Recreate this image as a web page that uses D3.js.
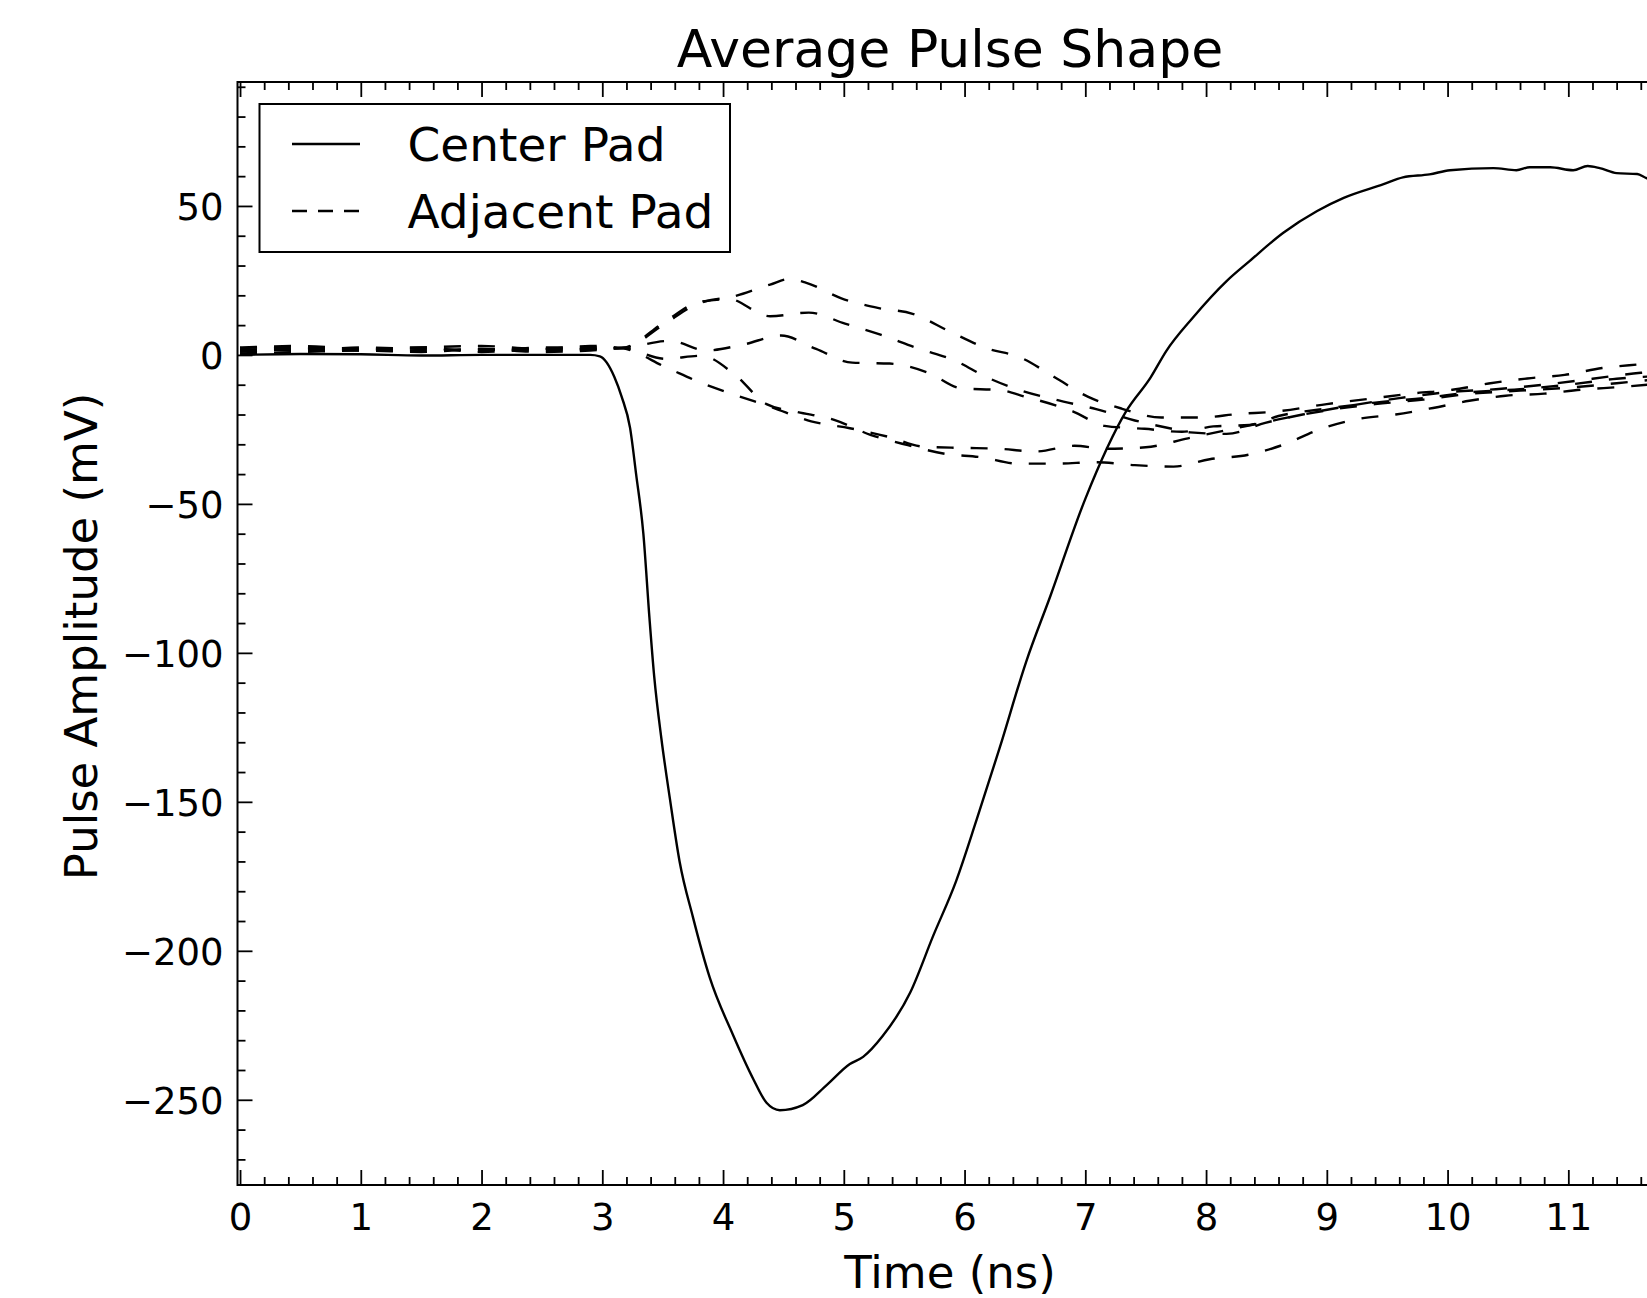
<!DOCTYPE html>
<html>
<head>
<meta charset="utf-8">
<script src="https://cdn.jsdelivr.net/npm/d3@7"></script>
<style>
  body { margin: 0; background: #fff; }
  svg { display: block; font-family: "DejaVu Sans", sans-serif; }
</style>
</head>
<body>
<script>
// center pad (solid)
var centerT = [0, 0.5, 1.0, 1.5, 2.0, 2.5, 2.8, 2.9, 2.98, 3.10, 3.16, 3.23, 3.28, 3.34, 3.39, 3.43, 3.49, 3.56, 3.64, 3.75, 3.89, 4.08, 4.25, 4.36, 4.47, 4.66, 4.86, 5.05, 5.16, 5.32, 5.55, 5.74, 5.93, 6.10, 6.29, 6.51, 6.71, 7.00, 7.34, 7.54, 7.67, 7.89, 8.17, 8.36, 8.64, 8.92, 9.14, 9.47, 9.63, 9.85, 10.02, 10.38, 10.57, 10.68, 10.85, 11.04, 11.16, 11.26, 11.40, 11.57, 11.65, 11.78];
var centerV = [0, 0.3, 0.2, -0.2, 0, 0, 0, 0, -0.5, -7.4, -14, -24.5, -40, -60, -88, -108, -129, -149, -170, -188.6, -209, -228, -243, -251, -253.5, -251.8, -245, -238, -235.6, -228.7, -214, -195, -176.6, -156, -132, -103, -81, -48.3, -18.8, -7.6, 1.3, 12.5, 24.8, 31.5, 41, 48.3, 52.7, 57.3, 59.6, 60.6, 62, 62.7, 62, 63, 63, 62, 63.4, 62.7, 61, 60.7, 59.3, 58.5];

// adjacent pads (dashed)
var adjA_T = [0, 0.5, 1, 1.5, 2, 2.5, 2.9, 3.16, 3.52, 3.78, 4.03, 4.39, 4.55, 4.69, 4.98, 5.29, 5.57, 5.88, 6.17, 6.47, 6.75, 7.02, 7.30, 7.63, 7.95, 8.27, 8.58, 9.00, 9.40, 9.72, 10.04, 10.34, 10.66, 10.97, 11.28, 11.58, 11.78];
var adjA_V = [1.5, 2.5, 2, 1.5, 2, 1.5, 2, 2.3, 11.2, 17.5, 19, 23.6, 25.5, 24.2, 19, 15.7, 13.8, 7.8, 2.4, -1, -7.6, -14, -18, -21, -21, -19.8, -19, -16.5, -14.5, -12.9, -11.7, -9.6, -7.9, -6.7, -4.4, -3.2, -2.5];

var adjB_T = [0, 0.5, 1, 1.5, 2, 2.5, 2.9, 3.16, 3.52, 3.78, 4.03, 4.39, 4.71, 5.01, 5.31, 5.61, 5.92, 6.19, 6.47, 6.75, 7.09, 7.41, 7.72, 7.87, 8.17, 8.49, 8.80, 9.20, 9.60, 10.00, 10.40, 10.80, 11.20, 11.60, 11.78];
var adjB_V = [2, 1.5, 2.5, 2, 1.5, 2.5, 2.5, 2.3, 10.5, 17, 19, 13, 14.2, 10.5, 6.7, 2.2, -1.9, -7.6, -12, -15, -18.2, -22, -24.8, -26, -26.5, -22.8, -20, -17, -14.5, -12.5, -11.5, -10, -8, -6, -5.5];

var adjC_T = [0, 0.5, 1, 1.5, 2, 2.5, 2.9, 3.16, 3.56, 3.86, 4.17, 4.48, 4.77, 5.07, 5.38, 5.70, 5.97, 6.29, 6.50, 6.90, 7.16, 7.49, 7.80, 8.06, 8.36, 8.60, 9.00, 9.40, 9.80, 10.20, 10.60, 11.00, 11.40, 11.78];
var adjC_V = [1, 2, 1.5, 2.5, 1, 2, 2, 2.3, 4.7, 1.5, 3.5, 6.5, 2, -2.6, -2.9, -6, -11.2, -11.8, -14, -19, -23.8, -24.8, -25.8, -24, -23.5, -20.5, -18, -16, -14.5, -12.5, -11.5, -10, -8, -7];

var adjD_T = [0, 0.5, 1, 1.5, 2, 2.5, 2.9, 3.16, 3.52, 3.82, 4.10, 4.36, 4.60, 4.92, 5.22, 5.53, 5.84, 6.13, 6.45, 6.76, 7.09, 7.41, 7.73, 8.03, 8.35, 8.65, 8.94, 9.26, 9.57, 9.88, 10.18, 10.48, 10.80, 11.10, 11.45, 11.78];
var adjD_V = [0.5, 1, 1.5, 1, 2, 1, 1.5, 2.3, -1.3, -0.3, -6.7, -16.5, -19, -21.8, -26.8, -30.3, -33.2, -34.3, -36.5, -36.5, -36, -37, -37.5, -35, -33.5, -30, -25, -21.5, -20, -17.8, -15.4, -13.7, -13, -11.7, -10.7, -9.5];

var adjE_T = [0, 0.5, 1, 1.5, 2, 2.5, 2.9, 3.16, 3.53, 3.82, 4.12, 4.40, 4.73, 5.05, 5.37, 5.66, 5.98, 6.28, 6.59, 6.91, 7.17, 7.50, 7.85, 8.20, 8.50, 8.80, 9.10, 9.40, 9.80, 10.20, 10.60, 11.00, 11.40, 11.78];
var adjE_V = [2.5, 3, 2, 2.5, 3, 2, 3, 2.3, -4.2, -9.4, -13.7, -17.5, -22.3, -24.6, -27.5, -30.8, -31.2, -31.5, -32.4, -30.5, -31.5, -31, -28, -25, -22.5, -20, -18, -16.5, -15, -13, -12, -11, -9.5, -8];

var xTicks = [0, 1, 2, 3, 4, 5, 6, 7, 8, 9, 10, 11];
var yTicks = [-250, -200, -150, -100, -50, 0, 50];
var legendLabels = ["Center Pad", "Adjacent Pad"];

var width = 1647, height = 1298;
var plot = { left: 237.5, top: 82, right: 1663, bottom: 1185 };

var xScale = d3.scaleLinear()
    .domain([-0.021, 11.784])
    .range([plot.left, plot.right]);

var yScale = d3.scaleLinear()
    .domain([-278.6, 91.6])
    .range([plot.bottom, plot.top]);

// minor ticks: every 0.2 ns and every 10 mV
var xMinor = d3.range(0, 11.8, 0.2).filter(function(d) { return Math.abs(d - Math.round(d)) > 1e-6; });
var yMinor = d3.range(-270, 91, 10).filter(function(d) { return d % 50 !== 0; });

var svg = d3.select("body").append("svg")
    .attr("width", width)
    .attr("height", height);

svg.append("rect").attr("width", width).attr("height", height).attr("fill", "#fff");

svg.append("defs").append("clipPath").attr("id", "plotClip")
  .append("rect")
    .attr("x", plot.left).attr("y", plot.top)
    .attr("width", plot.right - plot.left)
    .attr("height", plot.bottom - plot.top);

function styleAxis(g) {
  g.select(".domain").remove();
  g.selectAll("line").attr("stroke", "#000").attr("stroke-width", 1.8);
}

// major ticks, pointing inward
svg.append("g")
    .attr("transform", "translate(0," + plot.bottom + ")")
    .call(d3.axisBottom(xScale).tickValues(xTicks).tickSize(-15).tickFormat(d3.format("d")))
    .call(styleAxis)
    .selectAll("text")
      .attr("y", 45).attr("dy", null)
      .attr("font-size", 37).attr("fill", "#000")
      .attr("font-family", "DejaVu Sans");

svg.append("g")
    .attr("transform", "translate(0," + plot.top + ")")
    .call(d3.axisTop(xScale).tickValues(xTicks).tickSize(-15).tickFormat(""))
    .call(styleAxis);

svg.append("g")
    .attr("transform", "translate(" + plot.left + ",0)")
    .call(d3.axisLeft(yScale).tickValues(yTicks).tickSize(-15).tickFormat(d3.format("d")))
    .call(styleAxis)
    .selectAll("text")
      .attr("x", -14).attr("dy", "0.36em")
      .attr("font-size", 37).attr("fill", "#000")
      .attr("font-family", "DejaVu Sans");

svg.append("g")
    .attr("transform", "translate(" + plot.right + ",0)")
    .call(d3.axisRight(yScale).tickValues(yTicks).tickSize(-15).tickFormat(""))
    .call(styleAxis);

// minor ticks
svg.append("g")
    .attr("transform", "translate(0," + plot.bottom + ")")
    .call(d3.axisBottom(xScale).tickValues(xMinor).tickSize(-8).tickFormat(""))
    .call(styleAxis);
svg.append("g")
    .attr("transform", "translate(0," + plot.top + ")")
    .call(d3.axisTop(xScale).tickValues(xMinor).tickSize(-8).tickFormat(""))
    .call(styleAxis);
svg.append("g")
    .attr("transform", "translate(" + plot.left + ",0)")
    .call(d3.axisLeft(yScale).tickValues(yMinor).tickSize(-8).tickFormat(""))
    .call(styleAxis);
svg.append("g")
    .attr("transform", "translate(" + plot.right + ",0)")
    .call(d3.axisRight(yScale).tickValues(yMinor).tickSize(-8).tickFormat(""))
    .call(styleAxis);

// curves
var line = d3.line()
    .curve(d3.curveMonotoneX)
    .x(function(d) { return xScale(d[0]); })
    .y(function(d) { return yScale(d[1]); });

var lines = svg.append("g").attr("clip-path", "url(#plotClip)");

var adjacent = [[adjA_T, adjA_V], [adjB_T, adjB_V], [adjC_T, adjC_V], [adjD_T, adjD_V], [adjE_T, adjE_V]];
adjacent.forEach(function(s) {
  lines.append("path")
      .datum(d3.zip(s[0], s[1]))
      .attr("d", line)
      .attr("fill", "none")
      .attr("stroke", "#000")
      .attr("stroke-width", 2.4)
      .attr("stroke-dasharray", "17,17");
});

lines.append("path")
    .datum(d3.zip(centerT, centerV))
    .attr("d", line)
    .attr("fill", "none")
    .attr("stroke", "#000")
    .attr("stroke-width", 2.4)
    .attr("stroke-linejoin", "round");

// frame
svg.append("rect")
    .attr("x", plot.left).attr("y", plot.top)
    .attr("width", plot.right - plot.left)
    .attr("height", plot.bottom - plot.top)
    .attr("fill", "none")
    .attr("stroke", "#000")
    .attr("stroke-width", 2);

// legend
var legend = svg.append("g");
legend.append("rect")
    .attr("x", 259.5).attr("y", 104)
    .attr("width", 470.5).attr("height", 148)
    .attr("fill", "#fff")
    .attr("stroke", "#000")
    .attr("stroke-width", 2);

legendLabels.forEach(function(label, i) {
  var cy = 144 + i * 67;
  legend.append("line")
      .attr("x1", 292).attr("x2", 360)
      .attr("y1", cy).attr("y2", cy)
      .attr("stroke", "#000")
      .attr("stroke-width", 2.4)
      .attr("stroke-dasharray", i === 0 ? null : "15,11");
  legend.append("text")
      .attr("x", 407.5).attr("y", cy + 17)
      .attr("font-size", 47)
      .text(label);
});

// title and axis labels
svg.append("text")
    .attr("x", 950).attr("y", 67)
    .attr("text-anchor", "middle")
    .attr("font-size", 52)
    .text("Average Pulse Shape");

svg.append("text")
    .attr("x", 950).attr("y", 1288)
    .attr("text-anchor", "middle")
    .attr("font-size", 45)
    .text("Time (ns)");

svg.append("text")
    .attr("transform", "translate(97,636.5) rotate(-90)")
    .attr("text-anchor", "middle")
    .attr("font-size", 45)
    .text("Pulse Amplitude (mV)");
</script>
</body>
</html>
